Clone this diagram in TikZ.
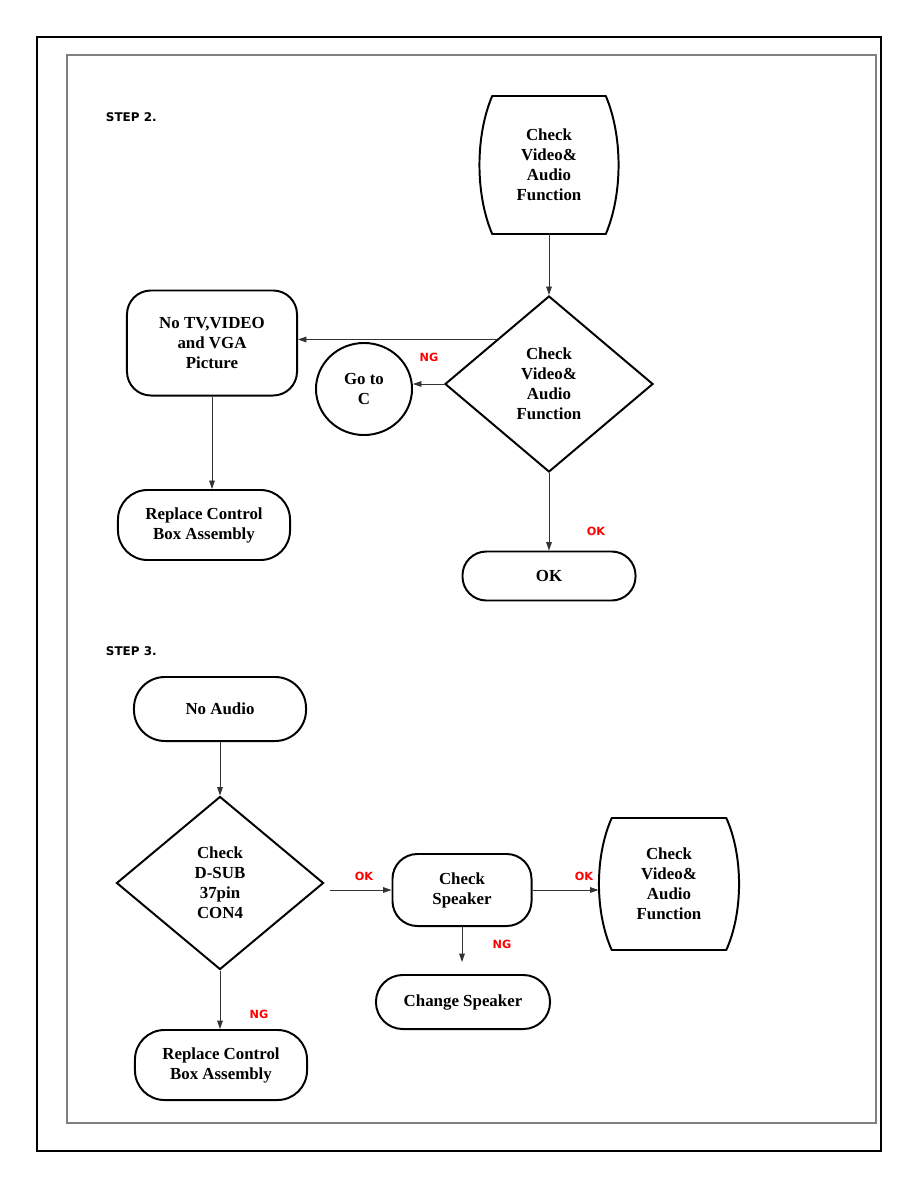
\documentclass[tikz,border=0pt]{standalone}
\usepackage{fontspec}
\setmainfont{Liberation Serif}
\newfontfamily\labfont{DejaVu Sans}
\usetikzlibrary{shapes.geometric,arrows.meta,calc}

\begin{document}
\begin{tikzpicture}[x=0.025cm, y=-0.025cm,
    box/.style={draw, line width=1.4pt, align=center, inner sep=0pt,
        font=\fontsize{12}{14.2}\selectfont\bfseries},
    term/.style={box, rectangle, rounded corners=#1},
    term/.default=17pt,
    dec/.style={box, diamond},
    arr/.style={black!80, line width=0.6pt, -{Triangle[length=6pt,width=4pt]}},
    tag/.style={text=red, font=\labfont\fontsize{8}{9}\selectfont\bfseries},
    steplab/.style={anchor=west, font=\labfont\fontsize{8.5}{10}\selectfont\bfseries}]

    % 页面大小与边框
    \useasboundingbox (0,0) rectangle (918,1188);
    \draw[line width=0.9pt] (37,37) rectangle (881,1151);
    \draw[gray, line width=0.8pt] (67,55) rectangle (876,1123);

    % --- STEP 2 ---
    \node[steplab] (st2) at (101,117) {STEP 2.};

    \node[box, draw=none, minimum width=3.45cm, minimum height=3.4cm] (chk1) at (549,165) {Check\\Video\&\\Audio\\Function};
    \draw[line width=1.4pt, line join=round]
        ([xshift=0.33cm]chk1.north west) -- ([xshift=-0.33cm]chk1.north east)
        .. controls +(17,40) and +(17,-40) .. ([xshift=-0.33cm]chk1.south east)
        -- ([xshift=0.33cm]chk1.south west)
        .. controls +(-17,-40) and +(-17,40) .. cycle;

    \node[dec, minimum width=5.2cm, minimum height=4.4cm] (dia1) at (549,384) {Check\\Video\&\\Audio\\Function};
    \node[term, minimum width=4.25cm, minimum height=2.625cm] (noTV) at (212,343) {No TV,VIDEO\\and VGA\\Picture};
    \node[box, ellipse, minimum width=2.4cm, minimum height=2.3cm] (goC) at (364,389) {Go to\\C};
    \node[term=21pt, minimum width=4.3cm, minimum height=1.75cm] (rep1) at (204,525) {Replace Control\\Box Assembly};
    \node[term, minimum width=4.325cm, minimum height=1.225cm] (okbox) at (549,576) {OK};

    \draw[arr] (chk1.south) -- (dia1.north);
    \coordinate (q1) at ($(dia1.west)!0.5!(dia1.north)$);
    \draw[arr] (q1) -- (q1 -| noTV.east);
    \draw[arr] (dia1.west) -- (dia1.west -| goC.east);
    \draw[arr] (noTV.south) -- (noTV.south |- rep1.north);
    \draw[arr] (dia1.south) -- (okbox.north);

    \node[tag] (ng1) at (429,357) {NG};
    \node[tag] (ok1) at (596,531) {OK};

    % --- STEP 3 ---
    \node[steplab] (st3) at (101,651) {STEP 3.};

    \node[term=22pt, minimum width=4.3cm, minimum height=1.6cm] (noAud) at (220,709) {No Audio};
    \node[dec, minimum width=5.175cm, minimum height=4.325cm] (dia2) at (220,883) {Check\\D-SUB\\37pin\\CON4};
    \node[term=17.7pt, minimum width=3.475cm, minimum height=1.8cm] (spk) at (462,890) {Check\\Speaker};
    \node[box, draw=none, minimum width=3.475cm, minimum height=3.25cm] (chk2) at (669,884) {Check\\Video\&\\Audio\\Function};
    \draw[line width=1.4pt, line join=round]
        ([xshift=0.33cm]chk2.north west) -- ([xshift=-0.33cm]chk2.north east)
        .. controls +(17,38) and +(17,-38) .. ([xshift=-0.33cm]chk2.south east)
        -- ([xshift=0.33cm]chk2.south west)
        .. controls +(-17,-38) and +(-17,38) .. cycle;
    \node[term=19pt, minimum width=4.35cm, minimum height=1.35cm] (chg) at (463,1002) {Change Speaker};
    \node[term=21pt, minimum width=4.3cm, minimum height=1.75cm] (rep2) at (221,1065) {Replace Control\\Box Assembly};

    \draw[arr] (noAud.south) -- (dia2.north);
    \draw[arr] ($(spk.west)+(-62,0)$) -- (spk.west);
    \draw[arr] (spk.east) -- (spk.east -| chk2.west);
    \draw[arr, shorten >=0.3cm] (spk.south) -- (spk.south |- chg.north);
    \draw[arr] (dia2.south) -- (dia2.south |- rep2.north);

    \node[tag] (ok2) at (364,876) {OK};
    \node[tag] (ok3) at (584,876) {OK};
    \node[tag] (ng2) at (502,944) {NG};
    \node[tag] (ng3) at (259,1014) {NG};

\end{tikzpicture}
\end{document}
